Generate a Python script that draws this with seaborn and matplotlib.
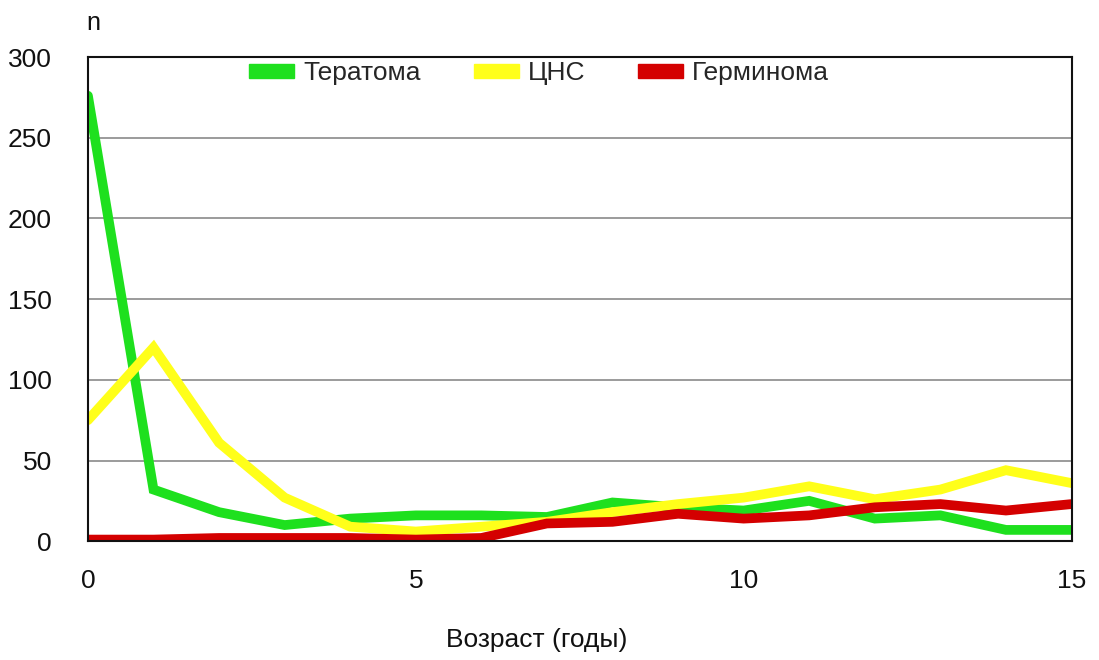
import numpy as np
import pandas as pd
import matplotlib
matplotlib.use("Agg")
import matplotlib.pyplot as plt
import matplotlib.patches as mpatches
import seaborn as sns

ages = list(range(16))
teratoma = [276, 32, 18, 10, 14, 16, 16, 15, 24, 21, 19, 25, 14, 16, 7, 7]
cns = [75, 120, 61, 27, 9, 6, 9, 12, 18, 23, 27, 34, 26, 32, 44, 36]
germinoma = [1, 1, 2, 2, 2, 1, 2, 11, 12, 17, 14, 16, 21, 23, 19, 23]
series_names = ["Тератома", "ЦНС", "Герминома"]
colors = ["#1ee01e", "#ffff1a", "#d40000"]
yticks = [0, 50, 100, 150, 200, 250, 300]
xticks = [0, 5, 10, 15]

df = pd.DataFrame({
    "age": ages * 3,
    "n": teratoma + cns + germinoma,
    "series": [series_names[0]] * 16 + [series_names[1]] * 16 + [series_names[2]] * 16,
})

sns.set_theme(style="white")
plt.rcParams["font.family"] = ["Liberation Sans", "DejaVu Sans"]

fig = plt.figure(figsize=(10.99, 6.60), dpi=100)
ax = fig.add_axes([0.080, 0.180, 0.895, 0.7336])

sns.lineplot(data=df, x="age", y="n", hue="series", hue_order=series_names,
             palette=colors, linewidth=7, ax=ax, legend=False,
             solid_joinstyle="miter")

ax.set_xlim(0, 15)
ax.set_ylim(0, 300)
ax.set_xticks(xticks)
ax.set_yticks(yticks)
ax.tick_params(axis="both", labelsize=19, length=0, colors="#111111")
ax.tick_params(axis="x", pad=20)
ax.tick_params(axis="y", pad=26)
for g in [50, 100, 150, 200, 250]:
    ax.axhline(g, color="#8a8a8a", linewidth=1.2, zorder=0)
for s in ax.spines.values():
    s.set_color("#111111")
    s.set_linewidth(1.5)
ax.set_xlabel("")
ax.set_ylabel("")
fig.text(0.488, 0.03, "Возраст (годы)", fontsize=19, color="#111111", ha="center", va="center")
fig.text(0.079, 0.955, "n", fontsize=18, color="#111111")

handles = [mpatches.Patch(facecolor=c, edgecolor=c) for c in colors]
leg = ax.legend(handles, series_names, loc="upper left", bbox_to_anchor=(0.14, 1.04),
                ncol=3, frameon=False, fontsize=19, handlelength=1.7, handleheight=0.45,
                columnspacing=2.0, handletextpad=0.35)

fig.savefig("out.png", dpi=100, facecolor="white")
